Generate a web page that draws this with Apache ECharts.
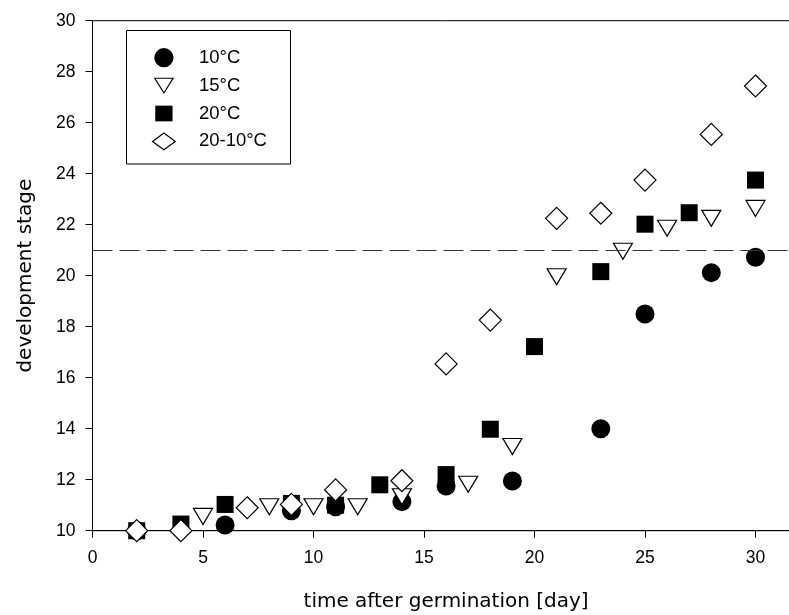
<!DOCTYPE html>
<html>
<head>
<meta charset="utf-8">
<script src="https://cdn.jsdelivr.net/npm/echarts@6/dist/echarts.min.js"></script>
<style>
  html, body { margin: 0; padding: 0; background: #fff; }
  #chart { width: 789px; height: 615px; }
</style>
</head>
<body>
<div id="chart"></div>
<script>
// ---- data ----
const seriesNames = ['10°C', '15°C', '20°C', '20-10°C'];

const days10 = [2, 6, 9, 11, 14, 16, 19, 23, 25, 28, 30];
const stage10 = [10, 10.22, 10.78, 10.94, 11.14, 11.75, 11.95, 14.0, 18.5, 20.12, 20.72];

const days15 = [5, 8, 10, 12, 14, 17, 19, 21, 24, 26, 28, 30];
const stage15 = [10.56, 10.94, 10.94, 10.94, 11.33, 11.82, 13.3, 19.96, 20.96, 21.86, 22.25, 22.64];

const days20 = [2, 4, 6, 9, 11, 13, 16, 18, 20, 23, 25, 27, 30];
const stage20 = [10, 10.26, 11.03, 11.07, 11.0, 11.8, 12.2, 13.98, 17.22, 20.16, 22.02, 22.47, 23.75];

const days2010 = [2, 4, 7, 9, 11, 14, 16, 18, 21, 23, 25, 28, 30];
const stage2010 = [10, 10, 10.9, 11.03, 11.6, 11.96, 16.54, 18.26, 22.25, 22.45, 23.75, 25.54, 27.44];

const thresholdStage = 21;

const xName = 'time after germination [day]';
const yName = 'development stage';

// ---- build ----
function pairs(xs, ys) { return xs.map((x, i) => [x, ys[i]]); }

const SANS = '"Liberation Sans", Arial, Helvetica, sans-serif';
const tickFont = { fontFamily: SANS, fontSize: 17.5, color: '#000' };
const nameFont = { fontFamily: '"DejaVu Sans", sans-serif', fontSize: 20, color: '#000' };

// legend icon frame: 42 x 20, icon centred at x = 12 (leaves room before the text)
const FRAME = 'M0,0M42,20';

const chart = echarts.init(document.getElementById('chart'), null, { renderer: 'canvas' });

const option = {
  animation: false,
  backgroundColor: '#fff',
  grid: {
    left: 92.5, right: -10.7, top: 20.7, bottom: 84.3,
    show: true, borderColor: '#000', borderWidth: 1, backgroundColor: 'transparent',
    containLabel: false, outerBoundsMode: 'none'
  },
  xAxis: {
    type: 'value', min: 0, max: 32, interval: 5,
    name: xName, nameLocation: 'middle', nameGap: 61, nameMoveOverlap: false,
    nameTextStyle: nameFont,
    axisLine: { show: true, onZero: false, lineStyle: { color: '#000', width: 1 } },
    axisTick: { show: true, inside: false, length: 7, lineStyle: { color: '#000', width: 1 } },
    axisLabel: Object.assign({ margin: 18, formatter: v => (v % 5 === 0 ? String(v) : '') }, tickFont),
    splitLine: { show: false }
  },
  yAxis: {
    type: 'value', min: 10, max: 30, interval: 2,
    name: yName, nameLocation: 'middle', nameGap: 57, nameMoveOverlap: false,
    nameTextStyle: nameFont,
    axisLine: { show: true, onZero: false, lineStyle: { color: '#000', width: 1 } },
    axisTick: { show: true, inside: false, length: 7, lineStyle: { color: '#000', width: 1 } },
    axisLabel: Object.assign({ margin: 17 }, tickFont),
    splitLine: { show: false }
  },
  legend: {
    show: true, orient: 'vertical', left: 151.3, top: 47.7, padding: 0,
    itemGap: 7.3, itemWidth: 42, itemHeight: 20,
    symbolRotate: 0, symbolKeepAspect: true,
    textStyle: { fontFamily: SANS, fontSize: 18.5, color: '#000' },
    data: [
      { name: seriesNames[0], icon: 'path://' + FRAME + 'M2.35,10a9.65,9.65 0 1,0 19.3,0a9.65,9.65 0 1,0 -19.3,0Z',
        itemStyle: { color: '#000', borderColor: '#000', borderWidth: 0 } },
      { name: seriesNames[1], icon: 'path://' + FRAME + 'M2.85,2.65L21.15,2.65L12,17.35Z',
        itemStyle: { color: '#fff', borderColor: '#000', borderWidth: 1.2 } },
      { name: seriesNames[2], icon: 'path://' + FRAME + 'M3.35,2.15H20.65V17.85H3.35Z',
        itemStyle: { color: '#000', borderColor: '#000', borderWidth: 0 } },
      { name: seriesNames[3], icon: 'path://' + FRAME + 'M0.65,10L12,1.65L23.35,10L12,18.35Z',
        itemStyle: { color: '#fff', borderColor: '#000', borderWidth: 1.2 } }
    ]
  },
  graphic: [
    {
      type: 'rect', z: 100, silent: true,
      shape: { x: 126.5, y: 30.5, width: 164, height: 133.5 },
      style: { fill: 'none', stroke: '#000', lineWidth: 1 }
    }
  ],
  series: [
    {
      name: seriesNames[0], type: 'scatter', symbol: 'circle', symbolSize: 19,
      itemStyle: { color: '#000', borderColor: '#000', borderWidth: 0, opacity: 1 },
      data: pairs(days10, stage10),
      z: 2,
      markLine: {
        silent: true, symbol: 'none', animation: false,
        label: { show: false },
        lineStyle: { color: '#333', width: 1, type: [20, 7] },
        emphasis: { disabled: true },
        data: [{ yAxis: thresholdStage }]
      }
    },
    {
      name: seriesNames[1], type: 'scatter', symbol: 'triangle', symbolSize: [19, 16], symbolRotate: 180,
      itemStyle: { color: '#fff', borderColor: '#000', borderWidth: 1.2, opacity: 1 },
      data: pairs(days15, stage15),
      z: 3
    },
    {
      name: seriesNames[2], type: 'scatter', symbol: 'rect', symbolSize: 17,
      itemStyle: { color: '#000', borderColor: '#000', borderWidth: 0, opacity: 1 },
      data: pairs(days20, stage20),
      z: 4
    },
    {
      name: seriesNames[3], type: 'scatter', symbol: 'diamond', symbolSize: 22,
      itemStyle: { color: '#fff', borderColor: '#000', borderWidth: 1.2, opacity: 1 },
      data: pairs(days2010, stage2010),
      z: 5
    }
  ]
};

chart.setOption(option);
</script>
</body>
</html>
